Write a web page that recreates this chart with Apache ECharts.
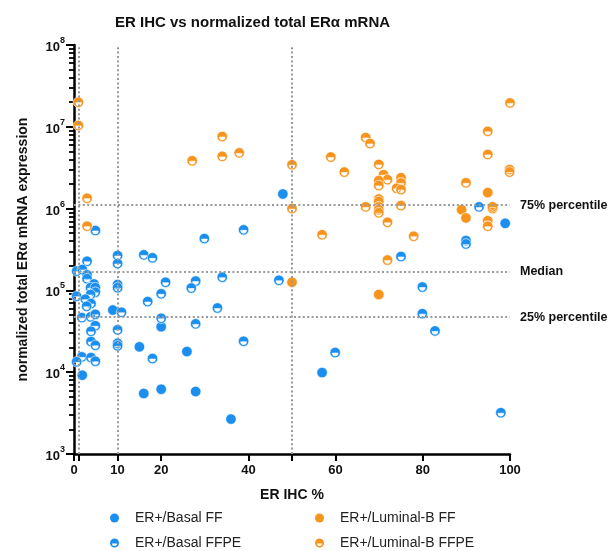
<!DOCTYPE html>
<html>
<head>
<meta charset="utf-8">
<script src="https://cdn.jsdelivr.net/npm/echarts@6/dist/echarts.min.js"></script>
<style>html,body{margin:0;padding:0;background:#fff}#c{width:616px;height:551px}</style>
</head>
<body>
<div id="c"></div>
<script>
// ---- data ([ER IHC %, normalized total ERa mRNA]) ----
const basalFF = [
  [47.9,1.51e6],[98.9,6.6e5],[56.9,9.9e3],[8.9,5.75e4],[20,3.6e4],[15,2.04e4],
  [25.9,1.79e4],[1.9,9.2e3],[16,5.5e3],[20,6.2e3],[27.9,5.8e3],[36,2.67e3]
];
const basalFFPE = [
  [4.9,5.4e5],[29.9,4.3e5],[38.9,5.5e5],[92.9,1.05e6],[89.9,4.07e5],[89.9,3.7e5],
  [75,2.6e5],[79.9,1.1e5],[79.9,5.2e4],[47,1.33e5],[82.8,3.2e4],[59.9,1.74e4],[97.9,3.2e3],
  [10,2.67e5],[16,2.72e5],[18,2.5e5],[10,2.13e5],[3,2.27e5],[0.6,1.72e5],[1.9,1.8e5],
  [3,1.55e5],[3,1.39e5],[34,1.45e5],[21,1.26e5],[27.9,1.3e5],[26.9,1.07e5],[4.6,1.2e5],
  [3.8,1.08e5],[4.9,1.08e5],[10,1.18e5],[10,1.08e5],[20,9.1e4],[0.6,8.5e4],[4.9,9.5e4],
  [3.8,8.9e4],[2.6,7.8e4],[3.9,6.9e4],[2.9,6.4e4],[16.9,7.3e4],[32.9,6.1e4],[10.9,5.4e4],
  [1.8,4.65e4],[3.8,4.75e4],[4.9,5.1e4],[20,4.56e4],[27.9,3.9e4],[4.9,3.7e4],[3.9,3.16e4],
  [10,3.3e4],[3.9,2.37e4],[4.9,2.13e4],[10,2.26e4],[10,2.1e4],[38.9,2.39e4],[18,1.47e4],
  [1.8,1.54e4],[0.6,1.34e4],[3.9,1.51e4],[4.9,1.36e4]
];
const lumFF = [
  [94.9,1.57e6],[88.9,9.7e5],[89.9,7.7e5],[50,1.26e5],[69.9,8.9e4],[96,1.0e6]
];
const lumFFPE = [
  [1,2.0e7],[1,1.04e7],[34,7.6e6],[27.1,3.85e6],[34,4.35e6],[37.9,4.8e6],[50,3.44e6],
  [3,1.34e6],[50,1.0e6],[3,6.1e5],[66.9,7.4e6],[67.9,6.25e6],[58.9,4.27e6],[62,2.8e6],
  [69.9,3.47e6],[71,2.6e6],[71.9,2.26e6],[69.9,2.2e6],[69.9,1.92e6],[75,2.39e6],[75,2.06e6],
  [74,1.77e6],[75,1.71e6],[69.9,1.31e6],[69.9,1.22e6],[66.9,1.05e6],[69.9,1.05e6],
  [69.9,9.7e5],[69.9,8.9e5],[75,1.09e6],[71.9,6.8e5],[56.9,4.8e5],[77.9,4.6e5],[71.9,2.35e5],
  [89.9,2.07e6],[94.9,8.8e6],[94.9,4.6e6],[99.9,3.0e6],[99.9,2.8e6],[94.9,7.1e5],[94.9,6.1e5],
  [100,1.96e7],[96,1.05e6]
];
const seriesNames = ['ER+/Basal FF','ER+/Basal FFPE','ER+/Luminal-B FF','ER+/Luminal-B FFPE'];
const percentileValues = [1.1e6, 1.68e5, 4.7e4];
const percentileNames = ['75% percentile','Median','25% percentile'];
const cutoffX = [1, 10, 50];
const xTickValues = [0, 1, 10, 20, 40, 50, 60, 80, 100];
const xLabelValues = [0, 10, 20, 40, 60, 80, 100];
const yMin = 1e3, yMax = 1e8;

const BLUE = '#1a8ff0', ORANGE = '#f7941d';
const FONT = '"Liberation Sans", Arial, Helvetica, sans-serif';
// half-filled circle (FFPE): coloured disc with a white half-moon band in its lower half
const HALF = 'path://M0,10 A10,10 0 1,1 20,10 A10,10 0 1,1 0,10 Z M4.4,11 A5.6,5.6 0 0,0 15.6,11 Z';
const symbols = ['circle', HALF, 'circle', HALF];

const minorTicks = [];
for (let e = 3; e < 8; e++) for (let m = 2; m <= 9; m++) minorTicks.push(m * Math.pow(10, e));

const chart = echarts.init(document.getElementById('c'), null, {renderer: 'canvas'});

function scat(name, data, color, symbol) {
  return {
    name, type: 'scatter', data, symbol, symbolSize: 10.5,
    itemStyle: {color, borderColor: '#fff', borderWidth: 0.6, opacity: 1},
    emphasis: {disabled: true}
  };
}

const markData = [];
cutoffX.forEach(v => markData.push({xAxis: v, label: {show: false}}));
percentileValues.forEach((v, i) => markData.push({yAxis: v, name: percentileNames[i]}));

const s0 = scat(seriesNames[0], basalFF, BLUE, 'circle');
s0.markLine = {
  silent: true, symbol: 'none', animation: false,
  lineStyle: {color: '#9a9a9a', width: 2, type: [2, 2.4]},
  label: {show: true, position: 'end', formatter: '{b}', distance: 10,
          fontFamily: FONT, fontWeight: 'bold', fontSize: 12.5, color: '#111'},
  emphasis: {disabled: true},
  data: markData
};

function legendCol(left, idx) {
  return {
    orient: 'vertical', left, top: 510, height: 50, itemWidth: 9, itemHeight: 9, itemGap: 9,
    data: idx.map(i => ({name: seriesNames[i], icon: symbols[i], itemStyle: {borderWidth: 0}})),
    textStyle: {fontFamily: FONT, fontSize: 14, color: '#222', lineHeight: 16, padding: [0, 0, 0, 11]},
    selectedMode: false, padding: 0
  };
}

chart.setOption({
  animation: false,
  textStyle: {fontFamily: FONT},
  title: {
    text: 'ER IHC vs normalized total ERα mRNA', left: 110, top: 10,
    textStyle: {fontFamily: FONT, fontWeight: 'bold', fontSize: 15, color: '#111'}
  },
  grid: {left: 74, right: 106, top: 45, bottom: 97, containLabel: false},
  xAxis: {
    type: 'value', min: 0, max: 100,
    name: 'ER IHC %', nameLocation: 'middle', nameGap: 34,
    nameTextStyle: {fontFamily: FONT, fontWeight: 'bold', fontSize: 14, color: '#111'},
    axisLine: {show: true, lineStyle: {color: '#000', width: 2.5}},
    axisTick: {show: true, length: 7, lineStyle: {color: '#000', width: 2}, customValues: xTickValues},
    axisLabel: {customValues: xLabelValues, margin: 10, fontFamily: FONT, fontWeight: 'bold', fontSize: 13, color: '#111'},
    splitLine: {show: false}
  },
  yAxis: [{
    type: 'log', logBase: 10, min: yMin, max: yMax,
    name: 'normalized total ERα mRNA expression', nameLocation: 'middle', nameGap: 44,
    nameTextStyle: {fontFamily: FONT, fontWeight: 'bold', fontSize: 14, color: '#111'},
    axisLine: {show: true, lineStyle: {color: '#000', width: 2.5}},
    axisTick: {show: true, length: 8, lineStyle: {color: '#000', width: 2}},
    axisLabel: {
      margin: 9, color: '#111',
      formatter: v => '{b|10}{s|' + Math.round(Math.log10(v)) + '}',
      rich: {
        b: {fontFamily: FONT, fontWeight: 'bold', fontSize: 13, color: '#111', verticalAlign: 'bottom', lineHeight: 18},
        s: {fontFamily: FONT, fontWeight: 'bold', fontSize: 9, color: '#111', verticalAlign: 'top', lineHeight: 18}
      }
    },
    splitLine: {show: false}
  }, {
    type: 'log', logBase: 10, min: yMin, max: yMax, position: 'left', offset: 0,
    axisLine: {show: false},
    axisTick: {show: true, length: 5, lineStyle: {color: '#000', width: 1.8}, customValues: minorTicks},
    axisLabel: {show: false},
    splitLine: {show: false}
  }],
  legend: [legendCol(110, [0, 1]), legendCol(315, [2, 3])],
  series: [
    s0,
    scat(seriesNames[1], basalFFPE, BLUE, HALF),
    scat(seriesNames[2], lumFF, ORANGE, 'circle'),
    scat(seriesNames[3], lumFFPE, ORANGE, HALF)
  ]
});
</script>
</body>
</html>
